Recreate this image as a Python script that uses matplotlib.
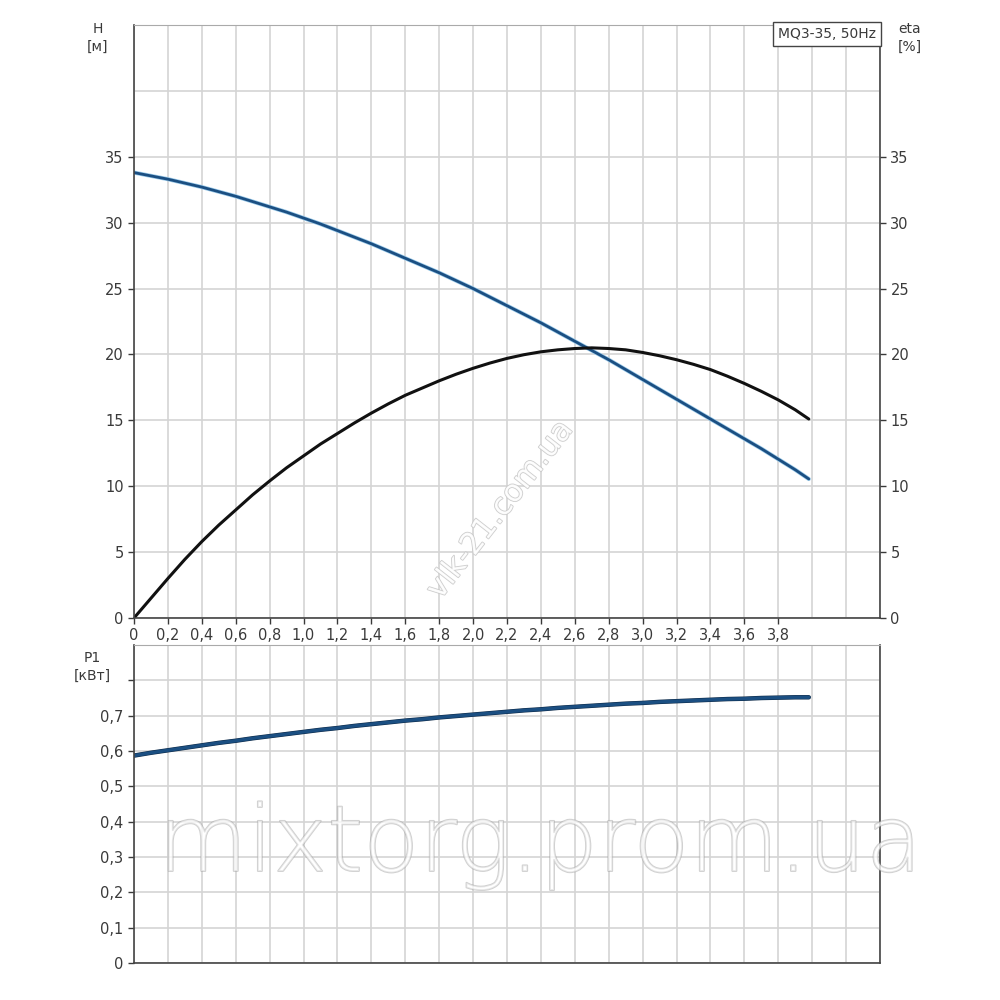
import matplotlib.pyplot as plt
import matplotlib.patheffects as pe

# Q [m3/h] points
q = [0.0, 0.1, 0.2, 0.3, 0.4, 0.5, 0.6, 0.7, 0.8, 0.9, 1.0,
     1.1, 1.2, 1.3, 1.4, 1.5, 1.6, 1.7, 1.8, 1.9, 2.0,
     2.1, 2.2, 2.3, 2.4, 2.5, 2.6, 2.7, 2.8, 2.9, 3.0,
     3.1, 3.2, 3.3, 3.4, 3.5, 3.6, 3.7, 3.8, 3.9, 3.98]
head = [33.8, 33.55, 33.3, 33.0, 32.7, 32.35, 32.0, 31.6, 31.2, 30.8, 30.35,
        29.9, 29.4, 28.9, 28.4, 27.85, 27.3, 26.75, 26.2, 25.6, 25.0,
        24.35, 23.7, 23.05, 22.4, 21.7, 21.0, 20.3, 19.6, 18.85, 18.1,
        17.35, 16.6, 15.85, 15.1, 14.35, 13.6, 12.85, 12.05, 11.25, 10.55]
eta = [0.0, 1.5, 3.0, 4.45, 5.8, 7.05, 8.2, 9.35, 10.4, 11.4, 12.3,
       13.2, 14.0, 14.8, 15.55, 16.25, 16.9, 17.45, 18.0, 18.5, 18.95,
       19.35, 19.7, 19.98, 20.2, 20.35, 20.45, 20.5, 20.45, 20.35, 20.15,
       19.9, 19.6, 19.25, 18.85, 18.35, 17.8, 17.2, 16.55, 15.8, 15.1]
p1 = [0.587, 0.595, 0.602, 0.609, 0.616, 0.623, 0.629, 0.636, 0.642, 0.648, 0.654,
      0.660, 0.665, 0.671, 0.676, 0.681, 0.686, 0.690, 0.695, 0.699, 0.703,
      0.707, 0.711, 0.715, 0.718, 0.722, 0.725, 0.728, 0.731, 0.734, 0.736,
      0.739, 0.741, 0.743, 0.745, 0.747, 0.748, 0.750, 0.751, 0.752, 0.752]

x_grid = [round(0.2 * i, 1) for i in range(23)]
x_ticks = [v for v in x_grid if v < 3.9]
x_labels = ["0"] + [f"{v:.1f}".replace(".", ",") for v in x_ticks[1:]]
h_ticks = [0, 5, 10, 15, 20, 25, 30, 35]
h_extra = [40, 45]
p_ticks = [0.0, 0.1, 0.2, 0.3, 0.4, 0.5, 0.6, 0.7, 0.8]
p_labels = ["0", "0,1", "0,2", "0,3", "0,4", "0,5", "0,6", "0,7", ""]

GRID = "#d4d4d4"
TXT = "#3a3a3a"
SPINE = "#444444"

fig = plt.figure(figsize=(10, 10), dpi=100)
ax = fig.add_axes([0.134, 0.382, 0.746, 0.593])
axp = fig.add_axes([0.134, 0.037, 0.746, 0.318])


def style(a):
    a.grid(True, which="both", color=GRID, linewidth=1.2)
    a.set_axisbelow(True)
    for s in ["left", "bottom", "right"]:
        a.spines[s].set_color(SPINE)
        a.spines[s].set_linewidth(1.2)
    a.spines["top"].set_color("#aaaaaa")
    a.tick_params(colors=TXT, labelsize=10.5, length=4, width=1, labelcolor=TXT)
    a.tick_params(which="minor", length=0)


style(ax)
ax.set_xlim(0, 4.4)
ax.set_ylim(0, 45)
ax.set_xticks(x_ticks)
ax.set_xticklabels(x_labels)
ax.set_xticks([v for v in x_grid if v >= 3.9], minor=True)
ax.set_yticks(h_ticks)
ax.set_yticks(h_extra, minor=True)
ax.plot(q, head, color="#1b4f82", linewidth=2.0, solid_capstyle="round",
        path_effects=[pe.Stroke(linewidth=3.0, foreground="#9ccbea"), pe.Normal()])
ax.plot(q, eta, color="#111111", linewidth=2.2, solid_capstyle="round")

ax2 = ax.twinx()
ax2.set_ylim(0, 45)
ax2.set_yticks(h_ticks)
ax2.tick_params(colors=TXT, labelsize=10.5, length=4, width=1)
for s in ax2.spines.values():
    s.set_visible(False)

ax.text(4.02, -2.6, "Q [м³/ч]", fontsize=10, color=TXT, ha="left", va="center")
fig.text(0.098, 0.962, "H\n[м]", fontsize=10, color=TXT, ha="center", va="center",
         linespacing=1.3)
fig.text(0.910, 0.962, "eta\n[%]", fontsize=10, color=TXT, ha="center", va="center",
         linespacing=1.3)
ax.text(0.995, 0.997, "MQ3-35, 50Hz", transform=ax.transAxes, ha="right", va="top",
        fontsize=10, color=TXT,
        bbox=dict(boxstyle="square,pad=0.35", facecolor="white", edgecolor=SPINE,
                  linewidth=1))

style(axp)
axp.set_xlim(0, 4.4)
axp.set_ylim(0, 0.9)
axp.set_xticks(x_grid)
axp.set_xticklabels([])
axp.tick_params(axis="x", length=0)
axp.set_yticks(p_ticks)
axp.set_yticklabels(p_labels)
axp.set_yticks([0.9], minor=True)
axp.plot(q, p1, color="#1b4f82", linewidth=2.4, solid_capstyle="round",
         path_effects=[pe.Stroke(linewidth=3.2, foreground="#0d2a48"), pe.Normal()])
fig.text(0.092, 0.333, "P1\n[кВт]", fontsize=10, color=TXT, ha="center", va="center",
         linespacing=1.3)

# watermarks
fig.text(0.50, 0.49, "vlk-21.com.ua", fontsize=22, color="white", rotation=52,
         ha="center", va="center", alpha=0.9,
         path_effects=[pe.Stroke(linewidth=1.2, foreground="#c8c8c8"), pe.Normal()])
fig.text(0.54, 0.155, "mixtorg.prom.ua", fontsize=66, color="white", ha="center",
         va="center", alpha=0.5, fontweight="light",
         path_effects=[pe.Stroke(linewidth=1.3, foreground="#a0a0a0"), pe.Normal()])

fig.savefig("out.png", dpi=100)
